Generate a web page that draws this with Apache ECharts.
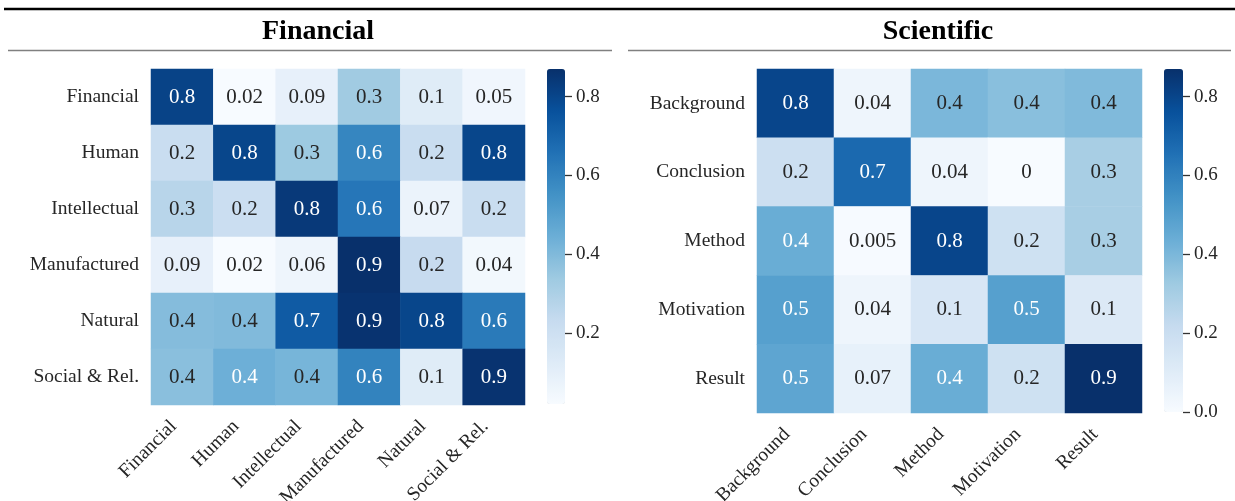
<!DOCTYPE html>
<html>
<head>
<meta charset="utf-8">
<script src="https://cdn.jsdelivr.net/npm/echarts@6/dist/echarts.min.js"></script>
<style>
  html, body { margin: 0; padding: 0; background: #fff; }
  #chart { width: 1235px; height: 501px; }
</style>
</head>
<body>
<div id="chart"></div>
<script>
// Capital categories and their pairwise values (rows top to bottom, columns left to right)
const finCategories = ['Financial', 'Human', 'Intellectual', 'Manufactured', 'Natural', 'Social & Rel.'];
const finValues = [
  [0.81, 0.02, 0.09, 0.33, 0.12, 0.05],
  [0.22, 0.80, 0.34, 0.59, 0.22, 0.80],
  [0.27, 0.21, 0.84, 0.64, 0.07, 0.22],
  [0.09, 0.02, 0.06, 0.87, 0.23, 0.04],
  [0.39, 0.40, 0.73, 0.86, 0.80, 0.63],
  [0.38, 0.44, 0.42, 0.60, 0.12, 0.86]
];
const finRange = [0.02, 0.87];
const finTicks = [0.2, 0.4, 0.6, 0.8];

// Scientific discourse roles
const sciCategories = ['Background', 'Conclusion', 'Method', 'Motivation', 'Result'];
const sciValues = [
  [0.80, 0.04, 0.40, 0.37, 0.39],
  [0.19, 0.68, 0.04, 0, 0.30],
  [0.44, 0.005, 0.80, 0.18, 0.30],
  [0.49, 0.04, 0.14, 0.49, 0.12],
  [0.47, 0.07, 0.44, 0.18, 0.87]
];
const sciRange = [0, 0.87];
const sciTicks = [0, 0.2, 0.4, 0.6, 0.8];

// Blues colour ramp
const blues = ['#f7fbff', '#deebf7', '#c6dbef', '#9ecae1', '#6baed6', '#4292c6', '#2171b5', '#08519c', '#08306b'];

const SERIF = '"Liberation Serif", "DejaVu Serif", serif';
const TEXT = '#262626';

// one significant digit, like a ".1g" format
function fmt1g(v) {
  if (v === 0) return '0';
  return String(Number(v.toPrecision(1)));
}

function cells(values, range) {
  const out = [];
  values.forEach((row, r) => {
    row.forEach((v, c) => {
      const t = (v - range[0]) / (range[1] - range[0]);
      out.push({ value: [c, r, v], label: { color: t >= 0.48 ? '#ffffff' : TEXT } });
    });
  });
  return out;
}

const panels = [
  { cats: finCategories, vals: finValues, range: finRange, ticks: finTicks,
    grid: { left: 151, top: 69, width: 374, height: 336 },
    bar: { left: 547, top: 69, width: 18, height: 335 } },
  { cats: sciCategories, vals: sciValues, range: sciRange, ticks: sciTicks,
    grid: { left: 757, top: 69, width: 385, height: 344 },
    bar: { left: 1164, top: 69, width: 19, height: 343 } }
];

const grids = [], xAxes = [], yAxes = [], series = [], visualMaps = [];

panels.forEach((p) => {
  // heatmap grid
  grids.push(Object.assign({ outerBoundsMode: 'none', containLabel: false }, p.grid));
  xAxes.push({
    type: 'category', gridIndex: grids.length - 1, data: p.cats,
    axisLine: { show: false }, axisTick: { show: false }, splitLine: { show: false },
    axisLabel: { rotate: 45, margin: 10, interval: 0, color: TEXT, fontFamily: SERIF, fontSize: 19.5,
      padding: [0, 12, 0, 0] }
  });
  yAxes.push({
    type: 'category', gridIndex: grids.length - 1, data: p.cats, inverse: true,
    axisLine: { show: false }, axisTick: { show: false }, splitLine: { show: false },
    axisLabel: { margin: 12, interval: 0, color: TEXT, fontFamily: SERIF, fontSize: 19.5 }
  });
  series.push({
    type: 'heatmap', xAxisIndex: xAxes.length - 1, yAxisIndex: yAxes.length - 1,
    data: cells(p.vals, p.range),
    label: {
      show: true, fontFamily: SERIF, fontSize: 21,
      formatter: (prm) => fmt1g(prm.value[2])
    },
    emphasis: { disabled: true }
  });
  visualMaps.push({
    type: 'continuous', seriesIndex: series.length - 1, dimension: 2,
    min: p.range[0], max: p.range[1],
    show: true, calculable: false, orient: 'vertical', padding: 0, z: 1,
    left: p.bar.left, top: p.bar.top, itemWidth: p.bar.width, itemHeight: p.bar.height,
    inRange: { color: blues }, hoverLink: false
  });

  // colourbar scale
  grids.push({ left: p.bar.left, top: p.bar.top, width: p.bar.width, height: p.bar.height,
    outerBoundsMode: 'none', containLabel: false });
  xAxes.push({ type: 'value', gridIndex: grids.length - 1, show: false, min: 1, max: 2 });
  yAxes.push({
    type: 'value', gridIndex: grids.length - 1, position: 'right', z: 10,
    min: p.range[0], max: p.range[1],
    axisLine: { show: false, onZero: false }, splitLine: { show: false },
    axisTick: { show: true, inside: false, length: 7, customValues: p.ticks,
      lineStyle: { color: '#333', width: 1.3 } },
    axisLabel: { customValues: p.ticks, margin: 11, color: TEXT, fontFamily: SERIF, fontSize: 19,
      formatter: (v) => v.toFixed(1) }
  });
});

const chart = echarts.init(document.getElementById('chart'), null, { renderer: 'canvas' });
chart.setOption({
  animation: false,
  backgroundColor: '#ffffff',
  title: [
    { text: 'Financial', left: 318, top: 18, textAlign: 'center', padding: 0,
      textStyle: { fontFamily: SERIF, fontWeight: 'bold', fontSize: 28, color: '#000' } },
    { text: 'Scientific', left: 938, top: 18, textAlign: 'center', padding: 0,
      textStyle: { fontFamily: SERIF, fontWeight: 'bold', fontSize: 28, color: '#000' } }
  ],
  graphic: [
    { type: 'line', shape: { x1: 4, y1: 9, x2: 1235, y2: 9 }, style: { stroke: '#000', lineWidth: 2.5 } },
    { type: 'line', shape: { x1: 8, y1: 50.5, x2: 612, y2: 50.5 }, style: { stroke: '#808080', lineWidth: 1.5 } },
    { type: 'line', shape: { x1: 628, y1: 50.5, x2: 1231, y2: 50.5 }, style: { stroke: '#808080', lineWidth: 1.5 } }
  ],
  grid: grids,
  xAxis: xAxes,
  yAxis: yAxes,
  visualMap: visualMaps,
  series: series
});
</script>
</body>
</html>
